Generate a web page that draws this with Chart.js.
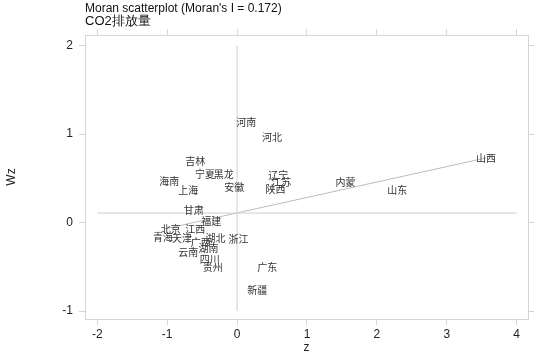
<!DOCTYPE html>
<html>
<head>
<meta charset="utf-8">
<script src="https://cdn.jsdelivr.net/npm/chart.js@4"></script>
<style>
  body { margin: 0; background: #fff; }
  #wrap { width: 541px; height: 363px; }
</style>
</head>
<body>
<div id="wrap"><canvas id="myChart"></canvas></div>
<script>
// provinces and their (z, Wz) values
const provinces = ['河南', '河北', '吉林', '宁夏', '黑龙', '海南', '上海', '安徽', '辽宁', '江苏',
  '陕西', '内蒙', '山西', '山东', '甘肃', '福建', '北京', '江西', '青海', '天津',
  '广西', '湖北', '浙江', '云南', '湖南', '四川', '贵州', '广东', '新疆'];
const zVals = [0.13, 0.50, -0.60, -0.46, -0.19, -0.97, -0.70, -0.04, 0.59, 0.63,
  0.55, 1.55, 3.56, 2.29, -0.62, -0.37, -0.95, -0.60, -1.06, -0.79,
  -0.52, -0.31, 0.02, -0.70, -0.41, -0.39, -0.35, 0.43, 0.29];
const wzVals = [1.13, 0.96, 0.69, 0.55, 0.55, 0.47, 0.37, 0.40, 0.54, 0.46,
  0.38, 0.46, 0.73, 0.36, 0.14, 0.01, -0.07, -0.08, -0.17, -0.18,
  -0.22, -0.18, -0.19, -0.34, -0.29, -0.41, -0.50, -0.51, -0.77];

// reference lines
const meanWz = 0.107;
const regX = [-1.05, 3.56];
const regY = [-0.075, 0.73];
const xTicks = [-2, -1, 0, 1, 2, 3, 4];
const yTicks = [-1, 0, 1, 2];

const title1 = "Moran scatterplot (Moran's I = 0.172)";
const title2 = 'CO2排放量';

const ctx = document.getElementById('myChart');

const labelPlugin = {
  id: 'provLabels',
  afterDatasetsDraw(chart) {
    const c = chart.ctx;
    const x = chart.scales.x, y = chart.scales.y;
    c.save();
    c.font = '10px "Noto Sans CJK SC"';
    c.fillStyle = '#333';
    c.textAlign = 'center';
    c.textBaseline = 'middle';
    provinces.forEach((p, i) => {
      c.fillText(p, x.getPixelForValue(zVals[i]), y.getPixelForValue(wzVals[i]));
    });
    c.restore();
  }
};

const titlePlugin = {
  id: 'topTitle',
  afterDraw(chart) {
    const c = chart.ctx;
    c.save();
    c.fillStyle = '#111';
    c.textAlign = 'left';
    c.textBaseline = 'middle';
    c.font = '12px "Liberation Sans", Arial';
    c.fillText(title1, chart.chartArea.left, 9);
    c.font = '13px "Liberation Sans", Arial';
    c.fillText(title2, chart.chartArea.left, 21);
    c.restore();
  }
};

const lineStyle = { showLine: true, pointRadius: 0, borderWidth: 1, fill: false };
const tickFont = { family: '"Liberation Sans", Arial', size: 12 };

new Chart(ctx, {
  type: 'scatter',
  data: {
    datasets: [
      Object.assign({ data: [{ x: 0, y: -1 }, { x: 0, y: 2 }], borderColor: '#cfcfcf' }, lineStyle),
      Object.assign({ data: [{ x: -2, y: meanWz }, { x: 4, y: meanWz }], borderColor: '#cfcfcf' }, lineStyle),
      Object.assign({ data: regX.map((v, i) => ({ x: v, y: regY[i] })), borderColor: '#bdbdbd' }, lineStyle),
      { data: zVals.map((v, i) => ({ x: v, y: wzVals[i] })), pointRadius: 0 }
    ]
  },
  options: {
    responsive: true,
    maintainAspectRatio: false,
    animation: false,
    layout: { padding: { top: 28, left: 0, right: 0, bottom: 0 } },
    plugins: { legend: { display: false }, tooltip: { enabled: false } },
    scales: {
      x: {
        type: 'linear', position: 'bottom', min: -2.176, max: 4.162,
        afterBuildTicks: s => { s.ticks = xTicks.map(v => ({ value: v })); },
        afterFit: s => { s.height = 44; },
        grid: { drawOnChartArea: false, color: '#d6d6d6', tickLength: 6 },
        border: { color: '#d6d6d6' },
        ticks: { color: '#222', font: tickFont, padding: 2, maxRotation: 0 },
        title: { display: true, text: 'z', color: '#222', font: tickFont, padding: { top: 0, bottom: 8 } }
      },
      x2: {
        type: 'linear', position: 'top', min: -2.176, max: 4.162,
        afterBuildTicks: s => { s.ticks = xTicks.map(v => ({ value: v })); },
        afterFit: s => { s.height = 7; },
        grid: { drawOnChartArea: false, color: '#d6d6d6', tickLength: 6 },
        border: { color: '#d6d6d6' },
        ticks: { display: false }
      },
      y: {
        type: 'linear', position: 'left', min: -1.09, max: 2.119,
        afterBuildTicks: s => { s.ticks = yTicks.map(v => ({ value: v })); },
        afterFit: s => { s.width = 85; },
        grid: { drawOnChartArea: false, color: '#d6d6d6', tickLength: 6 },
        border: { color: '#d6d6d6' },
        ticks: { color: '#222', font: tickFont, padding: 6 },
        title: { display: true, text: 'Wz', color: '#222', font: tickFont, padding: { top: 4, bottom: 0 } }
      },
      y2: {
        type: 'linear', position: 'right', min: -1.09, max: 2.119,
        afterBuildTicks: s => { s.ticks = yTicks.map(v => ({ value: v })); },
        afterFit: s => { s.width = 13; },
        grid: { drawOnChartArea: false, color: '#d6d6d6', tickLength: 6 },
        border: { color: '#d6d6d6' },
        ticks: { display: false }
      }
    }
  },
  plugins: [labelPlugin, titlePlugin]
});
</script>
</body>
</html>
